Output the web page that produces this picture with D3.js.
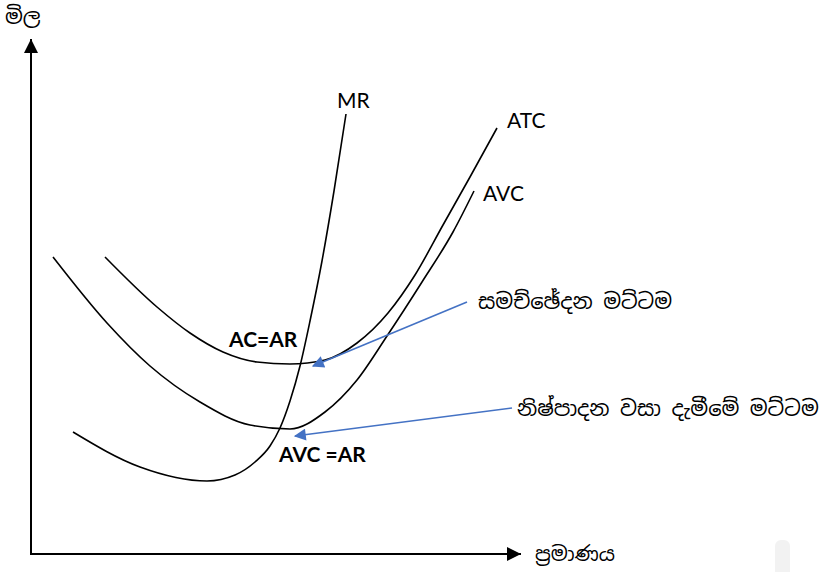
<!DOCTYPE html>
<html><head><meta charset="utf-8">
<script src="https://cdn.jsdelivr.net/npm/d3@7"></script>
<style>
body{margin:0;background:#fff;}
svg{display:block;}
.lat{font-family:"Noto Sans Sinhala","Noto Serif Sinhala","Iskoola Pota","Noto Sans",sans-serif;}
.lab{font-family:Lato,"Open Sans","Liberation Sans",sans-serif;}
</style></head>
<body>
<script>
// curve data (quantity, price) in arbitrary units
const atcQ = [14.8,25.2,31.8,38.4,45.2,51.8,58.8,65.2,71.4,76.8,82.4,87.8,93.2];
const atcP = [59.4,49.4,44.2,40.4,38.4,38.0,38.8,42.2,48.2,55.8,65.8,75.4,85.2];
const avcQ = [4.4,15.2,23.8,33.8,43.8,51.8,58.8,65.2,71.2,78.2,84.4,88.6];
const avcP = [59.4,46.2,37.6,30.4,25.8,25.0,28.4,34.8,43.6,54.4,64.4,72.6];
const mrQ  = [8.4,21.8,35.2,40.8,44.8,47.8,49.8,51.8,53.8,55.8,58.2,60.6,63.0];
const mrP  = [24.4,17.4,14.6,15.8,18.4,21.6,25.2,30.6,37.6,46.6,58.6,72.6,88.0];
const curveNames = ["ATC","AVC","MR"];
const axisLabels = ["ප්‍රමාණය","මිල"];
const notes = ["සමච්ඡේදන මට්ටම","නිෂ්පාදන වසා දැමීමේ මට්ටම"];
const pointLabels = ["AC=AR","AVC =AR"];
// annotation arrows: from (q,p) to (q,p)
const arrowFromQ = [87.2,96.2], arrowFromP = [50.4,29.2];
const arrowToQ = [56.4,52.8], arrowToP = [37.6,23.6];

const W=822,H=572;
const x = d3.scaleLinear().domain([0,98]).range([31,521]);
const y = d3.scaleLinear().domain([0,103]).range([554,39]);
const svg = d3.select("body").append("svg").attr("width",W).attr("height",H);

const defs = svg.append("defs");
defs.append("marker").attr("id","ah").attr("viewBox","0 0 10 10").attr("refX",10).attr("refY",5)
  .attr("markerWidth",14).attr("markerHeight",14).attr("markerUnits","userSpaceOnUse").attr("orient","auto")
  .append("path").attr("d","M0,0L10,5L0,10Z").attr("fill","#000");
defs.append("marker").attr("id","bh").attr("viewBox","0 0 10 10").attr("refX",9).attr("refY",5)
  .attr("markerWidth",15).attr("markerHeight",12).attr("markerUnits","userSpaceOnUse").attr("orient","auto")
  .append("path").attr("d","M0,0L10,5L0,10Z").attr("fill","#4472C4");

// faint artifact
svg.append("rect").attr("x",775).attr("y",540).attr("width",15).attr("height",40).attr("rx",6).attr("fill","#f2f2f2");

// axes
svg.append("line").attr("x1",x(0)).attr("y1",y(0)).attr("x2",x(0)).attr("y2",y(103))
  .attr("stroke","#000").attr("stroke-width",2).attr("marker-end","url(#ah)");
svg.append("line").attr("x1",x(0)-1).attr("y1",y(0)).attr("x2",x(98)).attr("y2",y(0))
  .attr("stroke","#000").attr("stroke-width",2).attr("marker-end","url(#ah)");

const line = d3.line().x(d=>x(d[0])).y(d=>y(d[1])).curve(d3.curveMonotoneX);
const series = [d3.zip(atcQ,atcP), d3.zip(avcQ,avcP), d3.zip(mrQ,mrP)];
series.forEach(s=>{
  svg.append("path").attr("d",line(s)).attr("fill","none").attr("stroke","#000").attr("stroke-width",1.6);
});

// curve labels
const lblPos = [[x(atcQ[atcQ.length-1])+10, y(atcP[atcP.length-1])],
                [x(avcQ[avcQ.length-1])+9, y(avcP[avcP.length-1])+10],
                [x(mrQ[mrQ.length-1])-9, y(mrP[mrP.length-1])-6]];
curveNames.forEach((n,i)=>{
  svg.append("text").attr("class","lab").attr("x",lblPos[i][0]).attr("y",lblPos[i][1])
    .attr("font-size",21).attr("fill","#000").text(n);
});

// point labels
svg.append("text").attr("class","lab").attr("x",229).attr("y",347).attr("font-size",21).attr("font-weight","bold").text(pointLabels[0]);
svg.append("text").attr("class","lab").attr("x",279).attr("y",462).attr("font-size",21).attr("font-weight","bold").text(pointLabels[1]);

// arrows
for(let i=0;i<2;i++){
  svg.append("line").attr("x1",x(arrowFromQ[i])).attr("y1",y(arrowFromP[i]))
    .attr("x2",x(arrowToQ[i])).attr("y2",y(arrowToP[i]))
    .attr("stroke","#4472C4").attr("stroke-width",1.6).attr("marker-end","url(#bh)");
}
// notes
svg.append("text").attr("class","lat").attr("x",x(arrowFromQ[0])+11).attr("y",y(arrowFromP[0])+7).attr("font-size",21).text(notes[0]);
svg.append("text").attr("class","lat").attr("x",x(arrowFromQ[1])+5).attr("y",y(arrowFromP[1])+8).attr("font-size",21).text(notes[1]);

// axis labels
svg.append("text").attr("class","lat").attr("x",x(98)+14).attr("y",y(0)+7).attr("font-size",20).attr("fill","#000").text(axisLabels[0]);
svg.append("text").attr("class","lat").attr("x",5).attr("y",24).attr("font-size",21).text(axisLabels[1]);
</script>
</body></html>
